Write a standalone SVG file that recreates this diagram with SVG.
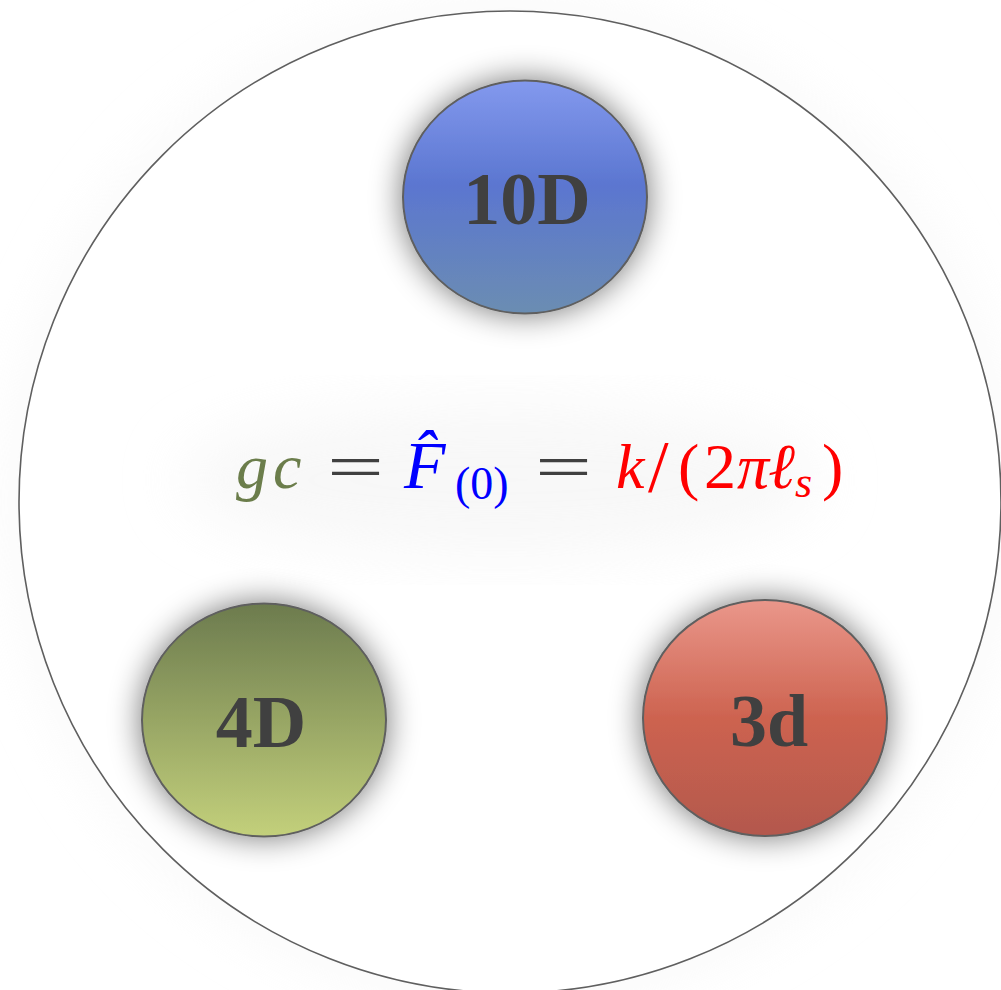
<svg xmlns="http://www.w3.org/2000/svg" width="1001" height="990" viewBox="0 0 1001 990">
<defs>
<style>
.node{stroke:#5f5f5f;stroke-width:2}
.lbl{font-family:"Liberation Serif",serif;font-weight:bold;font-size:74px;fill:#404040;text-anchor:middle}
.f{font-family:"Liberation Serif",serif;font-size:64px}
.it{font-style:italic}
.eq{fill:#404040}
</style>
<linearGradient id="gBlue" x1="0" y1="0" x2="0" y2="1">
<stop offset="0" stop-color="#8399ee"/>
<stop offset="0.45" stop-color="#5b76d0"/>
<stop offset="1" stop-color="#6b8db2"/>
</linearGradient>
<linearGradient id="gGreen" x1="0" y1="0" x2="0" y2="1">
<stop offset="0" stop-color="#6c7b4e"/>
<stop offset="1" stop-color="#c3d07b"/>
</linearGradient>
<linearGradient id="gRed" x1="0" y1="0" x2="0" y2="1">
<stop offset="0" stop-color="#ea978b"/>
<stop offset="0.5" stop-color="#cd6350"/>
<stop offset="1" stop-color="#b3584d"/>
</linearGradient>
<filter id="sh" x="-40%" y="-40%" width="180%" height="180%">
<feGaussianBlur in="SourceAlpha" stdDeviation="16"/>
<feComponentTransfer><feFuncA type="linear" slope="0.55"/></feComponentTransfer>
<feMerge><feMergeNode/><feMergeNode in="SourceGraphic"/></feMerge>
</filter>
<filter id="glow" x="-20%" y="-20%" width="140%" height="140%">
<feGaussianBlur stdDeviation="30"/>
</filter>
</defs>
<rect width="1001" height="990" fill="#ffffff"/>
<g id="outer">
<ellipse cx="510" cy="502" rx="496" ry="496" fill="#f4f4f4" filter="url(#glow)" opacity="0.6"/>
<ellipse cx="510" cy="502" rx="491" ry="491" fill="#ffffff" stroke="#5f5f5f" stroke-width="1.6"/>
<ellipse cx="500" cy="480" rx="320" ry="75" fill="#f3f3f3" filter="url(#glow)" opacity="0.6"/>
</g>
<g id="connectors"></g>
<g id="node-10D">
<ellipse class="node" cx="525" cy="197" rx="122" ry="116.5" fill="url(#gBlue)" filter="url(#sh)"/>
<text class="lbl" x="527" y="224">10D</text>
</g>
<g id="node-4D">
<ellipse class="node" cx="264" cy="720" rx="122" ry="116.5" fill="url(#gGreen)" filter="url(#sh)"/>
<text class="lbl" x="261" y="747">4D</text>
</g>
<g id="node-3d">
<ellipse class="node" cx="765" cy="718" rx="122" ry="118" fill="url(#gRed)" filter="url(#sh)"/>
<text class="lbl" x="769" y="746">3d</text>
</g>
<g id="formula">
<text class="f" y="488">
<tspan class="it" x="236" fill="#6b7d4b">g</tspan><tspan class="it" x="273" fill="#6b7d4b">c</tspan>
<tspan class="eq" x="327" textLength="57" lengthAdjust="spacingAndGlyphs">=</tspan>
<tspan class="it" x="404" fill="#0000ff" style="font-size:68px">F̂</tspan>
<tspan x="455" y="499" fill="#0000ff" style="font-size:46px">(0)</tspan>
<tspan class="eq" x="535" y="488" textLength="57" lengthAdjust="spacingAndGlyphs">=</tspan>
<tspan class="it" x="616" fill="#ff0000">k</tspan>
<tspan x="648" y="492" fill="#ff0000" style="font-size:74px">/</tspan>
<tspan x="678" y="488" fill="#ff0000">(</tspan>
<tspan x="704" fill="#ff0000">2</tspan>
<tspan class="it" x="737" fill="#ff0000">π</tspan>
<tspan class="it" x="768" fill="#ff0000">ℓ</tspan>
<tspan class="it" x="795" y="497" fill="#ff0000" style="font-size:44px">s</tspan>
<tspan x="822" y="488" fill="#ff0000">)</tspan>
</text>
</g>
</svg>
